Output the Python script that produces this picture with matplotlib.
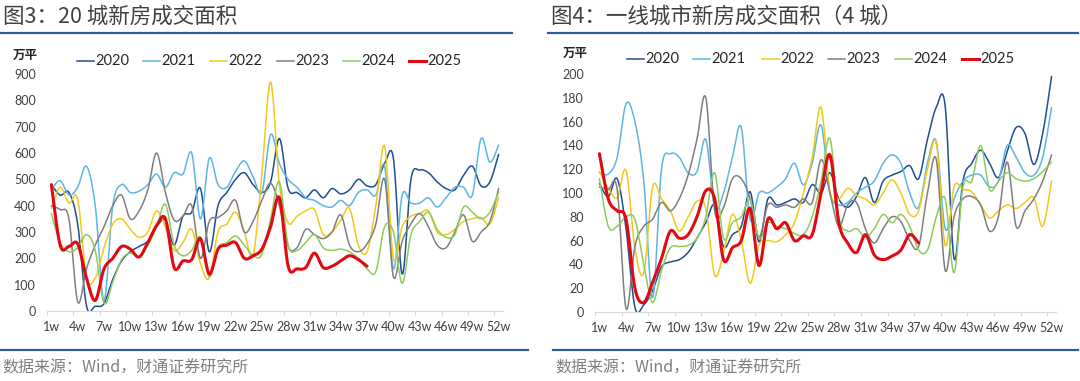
import numpy as np
import matplotlib
matplotlib.use("Agg")
import matplotlib.pyplot as plt
from matplotlib.lines import Line2D
from matplotlib import font_manager

plt.rcParams['font.family'] = ['Noto Sans CJK SC', 'DejaVu Sans']

_names = {f.name for f in font_manager.fontManager.ttflist}
TICK_FONT = ['Liberation Sans Narrow', 'Lato'] if 'Liberation Sans Narrow' in _names else ['Lato', 'DejaVu Sans']
TICK_SIZE = 10.5 if 'Liberation Sans Narrow' in _names else 9

years = ["2020", "2021", "2022", "2023", "2024", "2025"]
colors = ["#1F4E91", "#5DB6E6", "#F3C919", "#7F7F7F", "#8FCB5C", "#E10A12"]
weeks = list(range(1, 53))
week_labels = [f"{w}w" for w in range(1, 53, 3)]

# 20 城新房成交面积（万平）
c20_2020 = [480, 440, 450, 330, 20, 18, 28, 120, 190, 225, 245, 265, 320, 345, 250, 360, 375, 465, 225, 400,
            450, 500, 525, 480, 450, 490, 655, 465, 450, 430, 460, 430, 465, 445, 460, 500, 475, 480, 560, 580,
            140, 500, 535, 525, 490, 465, 460, 515, 550, 475, 490, 595]
c20_2021 = [460, 495, 440, 470, 550, 400, 40, 400, 480, 450, 455, 480, 520, 470, 525, 520, 600, 350, 580, 480,
            470, 530, 570, 510, 450, 670, 560, 500, 470, 430, 420, 400, 395, 420, 400, 450, 460, 440, 550, 160,
            440, 410, 410, 430, 395, 430, 470, 470, 440, 655, 565, 630]
c20_2022 = [390, 470, 410, 425, 130, 125, 240, 330, 350, 310, 280, 300, 380, 320, 230, 260, 310, 180, 125, 300,
            330, 375, 300, 210, 520, 870, 480, 335, 360, 380, 385, 290, 300, 345, 390, 250, 225, 400, 625, 200,
            320, 360, 370, 380, 300, 290, 310, 340, 350, 355, 330, 430]
c20_2023 = [400, 385, 350, 35, 160, 250, 320, 400, 440, 350, 380, 460, 600, 450, 345, 360, 400, 200, 340, 355,
            380, 420, 300, 340, 420, 485, 400, 245, 240, 310, 290, 275, 300, 365, 250, 225, 255, 330, 500, 130,
            265, 330, 370, 320, 250, 240, 300, 365, 265, 300, 340, 465]
c20_2024 = [370, 260, 225, 240, 290, 230, 30, 110, 195, 220, 205, 250, 320, 405, 250, 210, 230, 280, 130, 240,
            260, 285, 250, 210, 215, 350, 490, 250, 230, 260, 290, 240, 230, 235, 225, 200, 160, 150, 320, 300,
            105, 290, 340, 375, 310, 280, 290, 395, 375, 350, 375, 450]
c20_2025 = [480, 250, 245, 255, 125, 40, 160, 200, 245, 235, 205, 260, 325, 350, 165, 190, 195, 275, 140, 235,
            250, 260, 200, 210, 235, 320, 430, 170, 160, 165, 220, 165, 170, 190, 210, 195, 170]

# 一线城市新房成交面积（4 城，万平）
t1_2020 = [108, 97, 112, 70, 4, 6, 18, 38, 42, 44, 50, 62, 75, 90, 55, 65, 72, 101, 59, 95,
           90, 92, 95, 92, 107, 100, 117, 95, 88, 97, 113, 92, 110, 115, 118, 123, 112, 145, 172, 173,
           45, 110, 125, 136, 125, 113, 135, 155, 150, 124, 150, 198]
t1_2021 = [117, 116, 130, 175, 160, 110, 12, 120, 133, 130, 117, 118, 145, 88, 100, 130, 155, 78, 100, 100,
           105, 112, 125, 107, 125, 157, 100, 90, 92, 100, 105, 110, 125, 132, 125, 100, 88, 125, 143, 70,
           95, 110, 115, 115, 105, 110, 140, 130, 117, 115, 130, 172]
t1_2022 = [118, 104, 96, 119, 54, 33, 105, 95, 85, 68, 80, 93, 87, 31, 50, 82, 60, 24, 56, 60,
           59, 65, 75, 100, 130, 172, 101, 95, 104, 98, 95, 90, 100, 111, 100, 82, 85, 120, 142, 56,
           105, 103, 101, 90, 79, 85, 90, 87, 92, 96, 72, 110]
t1_2023 = [105, 103, 103, 3, 55, 72, 78, 92, 85, 95, 115, 145, 180, 85, 88, 112, 112, 95, 63, 90,
           88, 90, 88, 95, 92, 128, 100, 72, 90, 92, 70, 58, 70, 80, 76, 60, 55, 100, 128, 35,
           80, 95, 97, 90, 68, 80, 126, 72, 85, 95, 110, 132]
t1_2024 = [112, 72, 72, 80, 78, 40, 8, 35, 54, 55, 56, 62, 80, 117, 62, 75, 80, 94, 62, 75,
           72, 70, 66, 65, 80, 110, 146, 80, 68, 70, 63, 70, 82, 75, 82, 72, 52, 52, 80, 95,
           33, 105, 110, 140, 103, 110, 117, 112, 110, 112, 118, 126]
t1_2025 = [133, 95, 85, 78, 20, 8, 25, 45, 68, 62, 65, 80, 102, 95, 44, 54, 60, 87, 39, 78,
           70, 75, 60, 64, 65, 100, 132, 75, 58, 50, 65, 48, 44, 47, 52, 65, 58]

W, H = 1080, 381
fig = plt.figure(figsize=(W / 100, H / 100), dpi=100)
fig.patch.set_facecolor("white")


def fx(px):
    return px / W


def fy(py):
    return 1 - py / H


def smooth(vals):
    """Excel-style smoothed line (cubic Bezier through every point)."""
    pts = np.column_stack([np.arange(1, len(vals) + 1), np.asarray(vals, float)])
    n = len(pts)
    xs, ys = [], []
    t = np.linspace(0, 1, 20)[:, None]
    for i in range(n - 1):
        p0 = pts[max(i - 1, 0)]
        p1 = pts[i]
        p2 = pts[i + 1]
        p3 = pts[min(i + 2, n - 1)]
        c1 = p1 + (p2 - p0) / 6
        c2 = p2 - (p3 - p1) / 6
        b = (1 - t) ** 3 * p1 + 3 * (1 - t) ** 2 * t * c1 + 3 * (1 - t) * t ** 2 * c2 + t ** 3 * p2
        if i < n - 2:
            b = b[:-1]
        xs.append(b[:, 0])
        ys.append(b[:, 1])
    return np.concatenate(xs), np.concatenate(ys)


def panel(rect, series, ymax, ystep, title, title_x, line_x, foot_x, legend_x, legend_y, unit_xy):
    ax = fig.add_axes(rect)
    for vals, col, yr in zip(series, colors, years):
        xs, ys = smooth(vals)
        lw = 2.2 if yr == "2025" else 1.1
        ax.plot(xs, ys, color=col, lw=lw, solid_capstyle="round", zorder=3 if yr == "2025" else 2)
    ax.set_xlim(0.5, 52.5)
    ax.set_ylim(0, ymax)
    ax.set_yticks(np.arange(0, ymax + 1, ystep))
    ax.set_xticks(list(range(1, 53, 3)))
    ax.set_xticklabels(week_labels)
    ax.set_xticks(np.arange(0.5, 53, 3), minor=True)
    for s in ["top", "right", "left"]:
        ax.spines[s].set_visible(False)
    ax.spines["bottom"].set_color("#D9D9D9")
    ax.spines["bottom"].set_linewidth(0.8)
    ax.tick_params(axis="x", which="major", length=0, pad=7, labelsize=TICK_SIZE, labelcolor="#404040")
    ax.tick_params(axis="x", which="minor", length=3, width=0.8, color="#D9D9D9", direction="out")
    ax.tick_params(axis="y", length=0, pad=8, labelsize=TICK_SIZE, labelcolor="#404040")
    for lab in ax.get_xticklabels() + ax.get_yticklabels():
        lab.set_fontfamily(TICK_FONT)
    # title and rules
    fig.text(fx(title_x), fy(17), title, fontsize=15.5, color="#404040", va="center", ha="left")
    fig.add_artist(Line2D([fx(line_x[0]), fx(line_x[1])], [fy(33), fy(33)], color="#2F5C9C", lw=1.6))
    fig.add_artist(Line2D([fx(foot_x[0]), fx(foot_x[1])], [fy(350), fy(350)], color="#2F5C9C", lw=1.6))
    fig.text(fx(foot_x[0] + 2), fy(368), "数据来源：Wind，财通证券研究所", fontsize=11.5,
             color="#7F7F7F", va="center", ha="left")
    fig.text(fx(unit_xy[0]), fy(unit_xy[1]), "万平", fontsize=9, color="#262626",
             va="center", ha="left", fontweight="bold")
    # legend
    for i, (yr, col) in enumerate(zip(years, colors)):
        x0 = legend_x[i]
        lw = 2.2 if yr == "2025" else 1.1
        fig.add_artist(Line2D([fx(x0), fx(x0 + 17)], [fy(legend_y), fy(legend_y)], color=col, lw=lw))
        fig.text(fx(x0 + 18), fy(legend_y), yr, fontsize=10.5, color="#262626", va="center", ha="left",
                 fontfamily=["Lato", "DejaVu Sans"])
    return ax


panel([47 / W, 70 / H, 456 / W, 237 / H],
      [c20_2020, c20_2021, c20_2022, c20_2023, c20_2024, c20_2025], 900, 100,
      "图3：20 城新房成交面积", 3, (0, 512), (0, 528),
      [77, 143, 210, 277, 343, 409], 61, (13, 55))

panel([595 / W, 69 / H, 461 / W, 238 / H],
      [t1_2020, t1_2021, t1_2022, t1_2023, t1_2024, t1_2025], 200, 20,
      "图4：一线城市新房成交面积（4 城）", 551, (548, 1078), (553, 1078),
      [627, 693, 762, 828, 895, 962], 59, (563, 53))

fig.savefig("out.png", dpi=100)
